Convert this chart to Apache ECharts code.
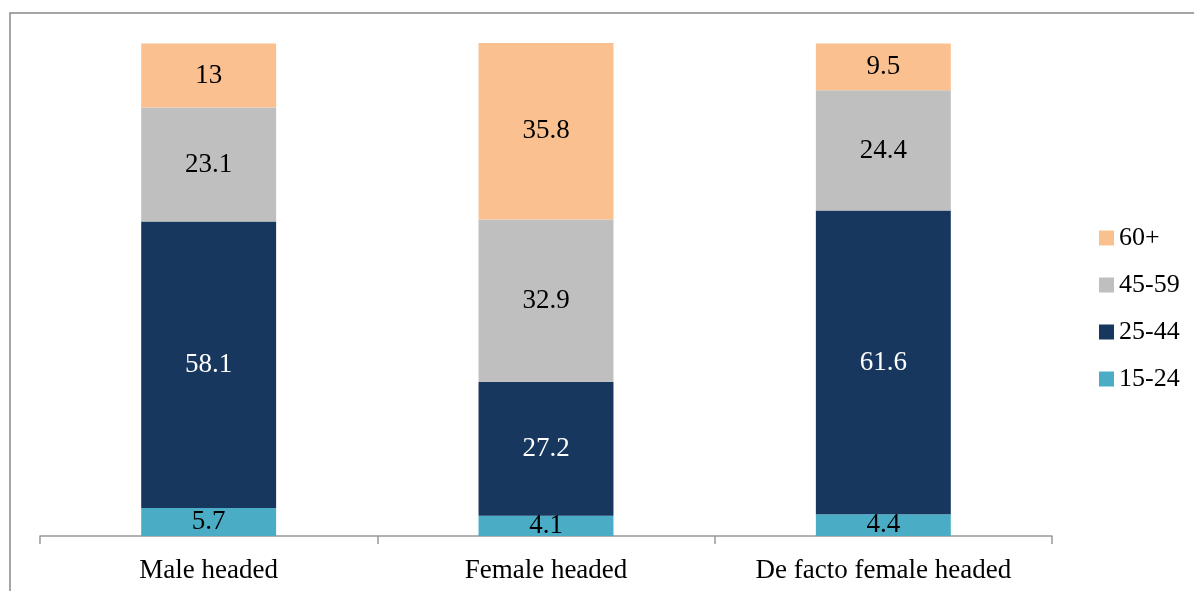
<!DOCTYPE html>
<html><head><meta charset="utf-8">
<script src="https://cdn.jsdelivr.net/npm/echarts@6/dist/echarts.min.js"></script>
<style>html,body{margin:0;padding:0;background:#fff}#c{width:1194px;height:591px}</style>
</head><body><div id="c"></div>
<script>
const categories = ['Male headed', 'Female headed', 'De facto female headed'];
const age15_24 = [5.7, 4.1, 4.4];
const age25_44 = [58.1, 27.2, 61.6];
const age45_59 = [23.1, 32.9, 24.4];
const age60p = [13, 35.8, 9.5];
const seriesNames = ['15-24', '25-44', '45-59', '60+'];
const colors = ['#4BACC6', '#17375E', '#BFBFBF', '#FAC090'];
const labelColors = ['#000', '#fff', '#000', '#000'];
const font = 'Liberation Serif';
const data = [age15_24, age25_44, age45_59, age60p];

const chart = echarts.init(document.getElementById('c'));
chart.setOption({
  animation: false,
  textStyle: { fontFamily: font },
  graphic: [{ type: 'rect', shape: { x: 10, y: 13, width: 1300, height: 700 }, style: { fill: 'none', stroke: '#888', lineWidth: 1.5 }, silent: true }],
  grid: { left: 40, right: 142, top: 43, bottom: 55 },
  legend: {
    orient: 'vertical', left: 1094, top: 220, itemWidth: 15, itemHeight: 15, itemGap: 21,
    icon: 'rect',
    data: ['60+', '45-59', '25-44', '15-24'],
    textStyle: { fontFamily: font, fontSize: 26, color: '#000' }
  },
  xAxis: {
    type: 'category', data: categories,
    axisLine: { lineStyle: { color: '#999', width: 1.5 } },
    axisTick: { show: true, length: 8, lineStyle: { color: '#999', width: 1.5 } },
    axisLabel: { fontFamily: font, fontSize: 27, color: '#000', margin: 21 }
  },
  yAxis: { type: 'value', min: 0, max: 100, show: false, splitLine: { show: false } },
  series: seriesNames.map((n, i) => ({
    name: n, type: 'bar', stack: 'total', barWidth: '40%',
    data: data[i],
    itemStyle: { color: colors[i] },
    label: { show: true, position: 'inside', fontFamily: font, fontSize: 27, color: labelColors[i], formatter: p => String(p.value) }
  }))
});
</script></body></html>
